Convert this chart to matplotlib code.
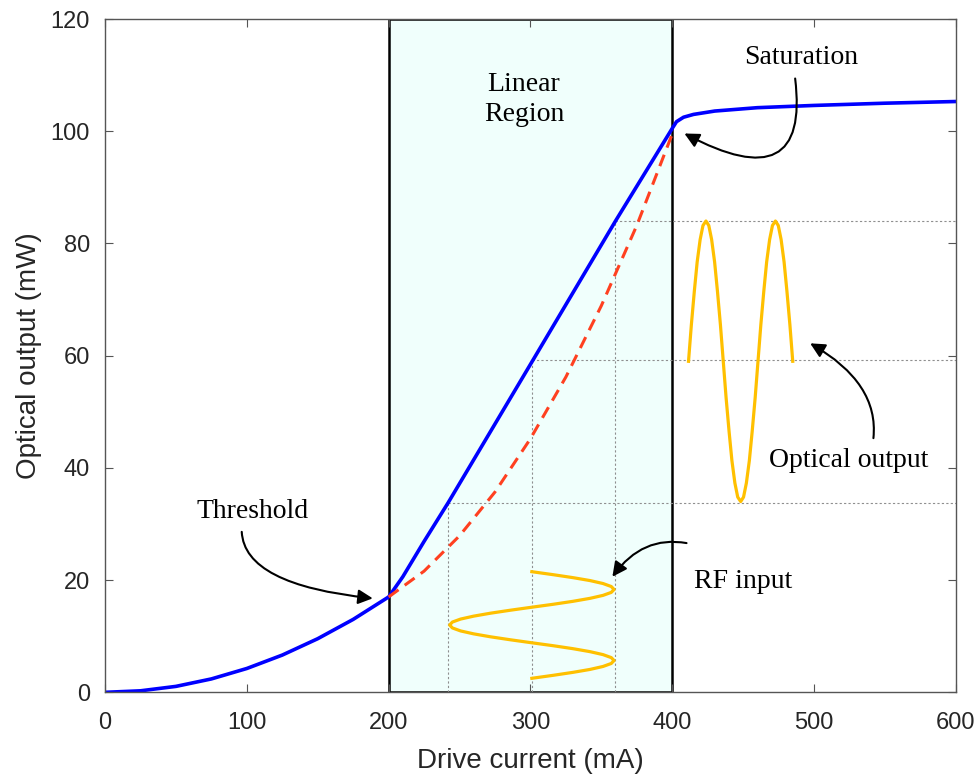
#! coding: utf-8
import numpy as np
import matplotlib.pyplot as plt

# ------------------------------------------------------------
# Data
# ------------------------------------------------------------
# laser output vs drive current
drive_ma = [0, 25, 50, 75, 100, 125, 150, 175, 200, 210, 225, 242, 302, 360,
            400, 403, 408, 415, 430, 460, 500, 550, 600]
output_mw = [0.0, 0.27, 1.06, 2.39, 4.25, 6.64, 9.56, 13.0, 17.0, 20.6, 26.9,
             33.8, 59.3, 84.0, 100.5, 101.7, 102.5, 103.0, 103.6, 104.2,
             104.6, 105.0, 105.3]

# non-linear (dashed) response inside the linear region
nl_ma = [200, 225, 250, 275, 300, 325, 350, 375, 400]
nl_mw = [17.0, 21.6, 27.9, 35.7, 45.2, 56.2, 68.9, 83.2, 99.5]

# RF input (current swing, drawn downward in time)
rf_ma = [301, 316.0, 330, 342.0, 351.2, 357.0, 359, 357.0, 351.2, 342.0, 330,
         316.0, 301, 286.0, 272, 260.0, 250.8, 245.0, 243, 245.0, 250.8, 260.0,
         272, 286.0, 301, 316.0, 330, 342.0, 351.2, 357.0, 359, 357.0, 351.2,
         342.0, 330, 316.0, 301]
rf_t = [21.5, 20.97, 20.44, 19.92, 19.39, 18.86, 18.33, 17.81, 17.28, 16.75,
        16.22, 15.69, 15.17, 14.64, 14.11, 13.58, 13.06, 12.53, 12.0, 11.47,
        10.94, 10.42, 9.89, 9.36, 8.83, 8.31, 7.78, 7.25, 6.72, 6.19, 5.67,
        5.14, 4.61, 4.08, 3.56, 3.03, 2.5]

# optical output (power swing, drawn to the right in time)
opt_t = [411.5, 413.5, 415.6, 417.6, 419.7, 421.7, 423.8, 425.8, 427.8, 429.9,
         431.9, 434.0, 436.0, 438.0, 440.1, 442.1, 444.2, 446.2, 448.3, 450.3,
         452.3, 454.4, 456.4, 458.5, 460.5, 462.5, 464.6, 466.6, 468.7, 470.7,
         472.8, 474.8, 476.8, 478.9, 480.9, 483.0, 485.0]
opt_mw = [59, 65.5, 71.5, 76.7, 80.7, 83.2, 84, 83.2, 80.7, 76.7, 71.5, 65.5,
          59, 52.5, 46.5, 41.3, 37.3, 34.8, 34, 34.8, 37.3, 41.3, 46.5, 52.5,
          59, 65.5, 71.5, 76.7, 80.7, 83.2, 84, 83.2, 80.7, 76.7, 71.5, 65.5, 59]

# projection guides (operating points on the curve)
guide_ma = [242, 301, 360]
guide_mw = [33.8, 59.3, 84.0]

linear_region = (200, 400)

xticks = [0, 100, 200, 300, 400, 500, 600]
yticks = [0, 20, 40, 60, 80, 100, 120]

# ------------------------------------------------------------
# Plot
# ------------------------------------------------------------
serif = ['Liberation Serif', 'DejaVu Serif']
sans = ['Liberation Sans', 'DejaVu Sans']

fig = plt.figure(figsize=(9.79, 7.80), dpi=100)
ax = fig.add_axes([0.1073, 0.1124, 0.8690, 0.8632])

ax.axvspan(linear_region[0], linear_region[1], facecolor='#F0FFFC',
           edgecolor='black', linewidth=1.8, zorder=1)

# guides
for gx, gy in zip(guide_ma, guide_mw):
    ax.plot([gx, gx], [0, gy], color='#8f8f8f', lw=0.8,
            linestyle=(0, (2, 2)), zorder=2)
    ax.plot([gx, 600], [gy, gy], color='#8f8f8f', lw=0.8,
            linestyle=(0, (2, 2)), zorder=2)

ax.plot(drive_ma, output_mw, color='#0000FF', lw=2.6, zorder=4,
        solid_capstyle='round', solid_joinstyle='round')
ax.plot(nl_ma, nl_mw, color='#FF4020', lw=2.2, dashes=(4, 2.5), zorder=5)
ax.plot(rf_ma, rf_t, color='#FFC000', lw=2.3, zorder=4)
ax.plot(opt_t, opt_mw, color='#FFC000', lw=2.3, zorder=4)

# annotations
ax.text(295.5, 105.6, 'Linear\nRegion', family=serif, fontsize=20,
        ha='center', va='center', linespacing=1.25, zorder=6)
ax.text(103.7, 32.3, 'Threshold', family=serif, fontsize=20,
        ha='center', va='center', zorder=6)
ax.text(491.3, 113.2, 'Saturation', family=serif, fontsize=20,
        ha='center', va='center', zorder=6)
ax.text(524.8, 41.4, 'Optical output', family=serif, fontsize=20,
        ha='center', va='center', zorder=6)
ax.text(450.3, 19.7, 'RF input', family=serif, fontsize=20,
        ha='center', va='center', zorder=6)

arrows = [
    ((188.8, 16.75), (96.4, 28.6), 'angle3,angleA=93,angleB=-6'),
    ((408.6, 99.6), (486.7, 109.4), 'angle3,angleA=97,angleB=152'),
    ((497.3, 62.2), (541.9, 45.3), 'angle3,angleA=84,angleB=150'),
    ((357.8, 20.6), (410.1, 26.6), 'angle3,angleA=-10,angleB=54'),
]
for xy, xytext, cs in arrows:
    ax.annotate('', xy=xy, xytext=xytext,
                arrowprops=dict(arrowstyle='-|>', connectionstyle=cs,
                                color='black', lw=1.5, mutation_scale=22,
                                shrinkA=0, shrinkB=0), zorder=6)

ax.set_xlim(0, 600)
ax.set_ylim(0, 120)
ax.set_xticks(xticks)
ax.set_yticks(yticks)
ax.tick_params(direction='in', length=6, width=0.8, top=True, right=True,
               color='#555555', labelcolor='#262626', labelsize=17, pad=11)
ax.tick_params(axis='x', pad=14)
for lab in ax.get_xticklabels() + ax.get_yticklabels():
    lab.set_family(sans)
for sp in ax.spines.values():
    sp.set_color('#555555')
    sp.set_linewidth(1.0)
    sp.set_zorder(7)

ax.set_xlabel('Drive current (mA)', family=sans, fontsize=20, color='#262626')
ax.set_ylabel('Optical output (mW)', family=sans, fontsize=20, color='#262626')
ax.xaxis.set_label_coords(0.5, -0.082)
ax.yaxis.set_label_coords(-0.074, 0.5)

plt.savefig('out.png', dpi=100)
plt.close()
